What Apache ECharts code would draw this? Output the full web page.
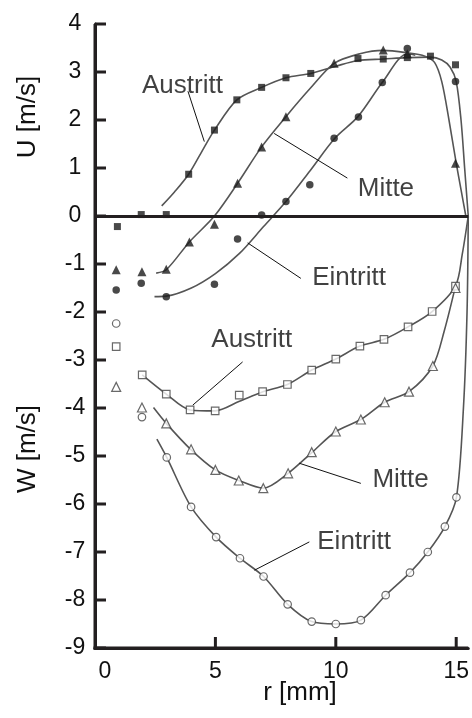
<!DOCTYPE html>
<html><head><meta charset="utf-8">
<script src="https://cdn.jsdelivr.net/npm/echarts@6/dist/echarts.min.js"></script>
<style>html,body{margin:0;padding:0;background:#fff}#c{width:472px;height:718px}</style>
</head><body><div id="c"></div>
<script>
// ---- tick labels ----
const xTicks = [0, 5, 10, 15];
const yTicks = [4, 3, 2, 1, 0, -1, -2, -3, -4, -5, -6, -7, -8, -9];

// ---- U (axial velocity), measured points (filled markers) ----
const uAustritt = [[0.93,-0.22],[1.92,0.03],[2.96,0.03],[3.89,0.87],[4.96,1.79],[5.89,2.42],[6.92,2.68],[7.93,2.88],[8.96,2.97],[10.92,3.28],[11.97,3.27],[12.97,3.30],[13.93,3.33],[14.97,3.15]];
const uMitte    = [[0.88,-1.12],[1.95,-1.16],[2.96,-1.11],[3.92,-0.54],[4.96,-0.17],[5.92,0.68],[6.92,1.44],[7.93,2.07],[9.93,3.18],[11.97,3.46],[12.97,3.38],[14.97,1.10]];
const uEintritt = [[0.88,-1.54],[1.92,-1.40],[2.96,-1.68],[4.96,-1.42],[5.92,-0.48],[6.92,0.02],[7.93,0.30],[8.92,0.65],[9.93,1.62],[10.94,2.06],[11.93,2.78],[12.97,3.49],[14.97,2.80]];

// ---- U fitted curves ----
const uAustrittFit = [[2.77,0.21],[3.3,0.5],[3.89,0.87],[4.5,1.4],[4.96,1.79],[5.89,2.42],[6.92,2.68],[7.93,2.88],[8.96,2.97],[10.0,3.12],[10.92,3.24],[11.97,3.27],[12.97,3.30],[13.93,3.31],[14.4,3.25],[14.75,3.1],[15.0,2.8],[15.2,2.0],[15.35,1.0],[15.5,0.0]];
const uMitteFit    = [[2.54,-1.19],[2.96,-1.12],[3.92,-0.54],[4.96,0.0],[5.92,0.68],[6.92,1.44],[7.93,2.07],[8.94,2.66],[9.93,3.18],[11.0,3.38],[11.97,3.45],[12.97,3.40],[13.7,3.33],[14.1,3.2],[14.4,2.8],[14.7,2.0],[15.0,1.1],[15.2,0.55],[15.4,0.0]];
const uEintrittFit = [[2.47,-1.68],[2.96,-1.67],[4.0,-1.5],[5.0,-1.2],[6.0,-0.78],[7.0,-0.22],[7.93,0.30],[8.94,0.95],[9.96,1.62],[10.92,2.07],[11.93,2.78],[12.97,3.38],[13.3,3.35]];

// ---- W (swirl velocity), measured points (open markers) ----
const wAustritt = [[0.88,-2.72],[1.96,-3.31],[2.96,-3.71],[3.95,-4.04],[4.99,-4.06],[5.99,-3.73],[6.96,-3.66],[7.99,-3.51],[9.0,-3.21],[10.0,-2.98],[11.0,-2.71],[12.0,-2.57],[13.0,-2.31],[14.0,-1.99],[14.97,-1.46]];
const wMitte    = [[0.88,-3.56],[1.95,-3.99],[2.96,-4.32],[3.99,-4.86],[5.0,-5.29],[5.97,-5.51],[6.99,-5.67],[8.02,-5.36],[9.0,-4.92],[10.0,-4.49],[11.04,-4.24],[12.03,-3.88],[13.04,-3.66],[14.03,-3.125],[14.97,-1.5]];
const wEintritt = [[0.88,-2.24],[1.95,-4.19],[2.98,-5.03],[3.99,-6.06],[5.03,-6.69],[6.02,-7.13],[7.0,-7.51],[8.0,-8.09],[9.0,-8.45],[10.0,-8.5],[11.04,-8.42],[12.07,-7.9],[13.08,-7.43],[13.82,-7.0],[14.53,-6.47],[15.01,-5.86]];

// ---- W fitted curves ----
const wAustrittFit = [[1.96,-3.31],[2.96,-3.71],[3.95,-4.04],[4.99,-4.06],[6.0,-3.86],[6.92,-3.67],[7.99,-3.51],[9.0,-3.21],[10.0,-2.98],[11.0,-2.71],[12.0,-2.57],[13.0,-2.31],[14.0,-1.99],[14.97,-1.46],[15.25,-0.8],[15.5,0.0]];
const wMitteFit    = [[2.43,-3.99],[2.96,-4.32],[3.95,-4.85],[5.0,-5.29],[5.97,-5.51],[6.99,-5.67],[8.02,-5.36],[9.0,-4.93],[10.0,-4.49],[11.04,-4.24],[12.03,-3.88],[13.04,-3.66],[14.03,-3.125],[14.5,-2.4],[14.97,-1.46]];
const wEintrittFit = [[2.57,-4.65],[2.98,-5.03],[3.99,-6.06],[5.03,-6.69],[6.02,-7.13],[7.0,-7.51],[8.0,-8.09],[9.0,-8.45],[10.0,-8.5],[11.04,-8.42],[12.07,-7.9],[13.08,-7.43],[13.82,-7.0],[14.53,-6.47],[15.01,-5.86],[15.3,-4.0],[15.45,-2.0],[15.5,0.0]];

// ---- annotation texts (data coordinates) and leader lines ----
const annoNames  = ['Austritt','Mitte','Eintritt','Austritt','Mitte','Eintritt'];
const annoPos    = [[3.63,2.71],[12.08,0.56],[10.55,-1.285],[6.51,-2.58],[12.69,-5.5],[10.76,-6.79]];
const leaderLines = [
  [[3.86,2.6],[4.54,1.55]],
  [[7.44,1.72],[10.48,0.79]],
  [[6.34,-0.56],[8.55,-1.30]],
  [[6.13,-3.04],[4.06,-3.94]],
  [[8.48,-5.15],[11.04,-5.57]],
  [[8.90,-6.79],[6.62,-7.38]]
];

const X_MIN = 0, X_MAX = 15.5, Y_MIN = -9, Y_MAX = 4;
const FF = '"Liberation Sans", Arial, Helvetica, sans-serif';
const AX = '#231f20';

function fit(data) {
  return { type:'line', data, smooth:0.3, symbol:'none', silent:true,
           lineStyle:{ color:'#555', width:1.6 }, z:2 };
}
function pts(data, symbol, size, open) {
  return { type:'scatter', data, symbol, symbolSize:size, silent:true, z:4,
           itemStyle: open ? { color:'#fff', borderColor:'#444', borderWidth:1.2 } : { color:'#1b1b1b' } };
}

const series = [];
[uAustrittFit,uMitteFit,uEintrittFit,wAustrittFit,wMitteFit,wEintrittFit].forEach(d => series.push(fit(d)));
leaderLines.forEach(d => series.push({ type:'line', data:d, symbol:'none', silent:true, lineStyle:{ color:'#111', width:1 }, z:3 }));
series.push(pts(uAustritt,'rect',7,false));
series.push(pts(uMitte,'triangle',9,false));
series.push(pts(uEintritt,'circle',7.5,false));
series.push(pts(wAustritt,'rect',7.5,true));
series.push(pts(wMitte,'triangle',9,true));
series.push(pts(wEintritt,'circle',7.5,true));
series.push({
  type:'scatter', silent:true, symbolSize:1, itemStyle:{ color:'rgba(0,0,0,0)' }, z:5,
  data: annoNames.map((n,i) => ({ name:n, value:annoPos[i] })),
  label:{ show:true, position:'inside', formatter:p => p.name, color:'#111', fontSize:26, fontFamily:FF }
});
// zero line
series[0].markLine = { silent:true, symbol:'none', label:{show:false},
  lineStyle:{ color:AX, width:3, type:'solid' }, data:[{ yAxis:0 }] };

const chart = echarts.init(document.getElementById('c'), null, { renderer:'canvas' });
chart.setOption({
  animation:false,
  backgroundColor:'#fff',
  grid:{ left:95, right:2, top:24, bottom:70, containLabel:false },
  xAxis:{
    type:'value', min:X_MIN, max:X_MAX, interval:5,
    axisLine:{ show:true, onZero:false, lineStyle:{ color:AX, width:3 } },
    axisTick:{ show:false },
    axisLabel:{ showMaxLabel:false, margin:12, fontSize:23, color:'#111', fontFamily:FF,
      formatter: v => (v === 0 ? '{z|0}' : (xTicks.indexOf(v) >= 0 ? String(v) : '')),
      rich:{ z:{ padding:[0,0,0,20], fontSize:23, color:'#111', fontFamily:FF } } },
    splitLine:{ show:false }
  },
  yAxis:{
    type:'value', min:Y_MIN, max:Y_MAX, interval:1,
    axisLine:{ show:true, onZero:false, lineStyle:{ color:AX, width:3 } },
    axisTick:{ show:false },
    axisLabel:{ align:'center', margin:20, fontSize:23, color:'#111', fontFamily:FF,
      formatter: v => (yTicks.indexOf(v) >= 0 ? String(v) : '') },
    splitLine:{ show:false }
  },
  series
});

// axis frame and inward ticks, positioned through the chart's own scales
const toPx = v => chart.convertToPixel({ gridIndex:0 }, v);
const TICK_PX = 11;
const frameStyle = { stroke:AX, lineWidth:3, lineCap:'butt' };
const els = [
  { type:'text', id:'nu', x:28, y:117, rotation:Math.PI/2, silent:true, z:100,
    style:{ text:'U [m/s]', fontSize:26, fontFamily:FF, fill:'#111', align:'center', verticalAlign:'middle' } },
  { type:'text', id:'nw', x:28, y:449, rotation:Math.PI/2, silent:true, z:100,
    style:{ text:'W [m/s]', fontSize:26, fontFamily:FF, fill:'#111', align:'center', verticalAlign:'middle' } },
  { type:'text', id:'nr', x:300, y:693, silent:true, z:100,
    style:{ text:'r [mm]', fontSize:26, fontFamily:FF, fill:'#111', align:'center', verticalAlign:'middle' } }
];
const pOrigin = toPx([X_MIN, Y_MIN]), pTop = toPx([X_MIN, Y_MAX]), pRight = toPx([X_MAX, Y_MIN]);
els.push({ type:'line', id:'axy', silent:true, z:100, shape:{ x1:pOrigin[0], y1:pOrigin[1] + 1.5, x2:pTop[0], y2:pTop[1] }, style:frameStyle });
els.push({ type:'line', id:'axx', silent:true, z:100, shape:{ x1:pOrigin[0] - 1.5, y1:pOrigin[1], x2:pRight[0], y2:pRight[1] }, style:frameStyle });
yTicks.forEach((v, i) => {
  const p = toPx([X_MIN, v]);
  els.push({ type:'line', id:'ty' + i, silent:true, z:100, shape:{ x1:p[0], y1:p[1], x2:p[0] + TICK_PX, y2:p[1] }, style:frameStyle });
});
xTicks.filter(v => v !== X_MIN).forEach((v, i) => {
  const p = toPx([v, Y_MIN]);
  els.push({ type:'line', id:'tx' + i, silent:true, z:100, shape:{ x1:p[0], y1:p[1], x2:p[0], y2:p[1] - TICK_PX }, style:frameStyle });
});
chart.setOption({ graphic:els });
</script></body></html>
